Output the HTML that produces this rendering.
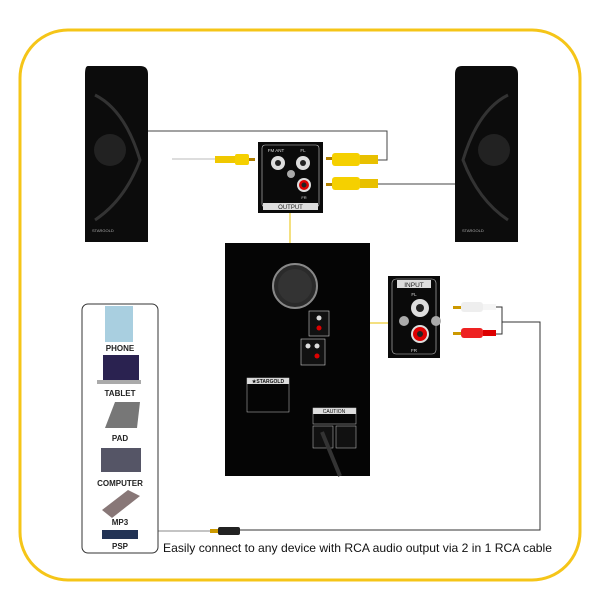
<!DOCTYPE html><html><head><style>
body{margin:0;background:#fff;width:600px;height:600px;overflow:hidden;font-family:"Liberation Sans",sans-serif}
</style></head><body>
<svg width="600" height="600" viewBox="0 0 600 600" xmlns="http://www.w3.org/2000/svg" font-family="Liberation Sans, sans-serif">
<rect x="20" y="30" width="560" height="550" rx="48" fill="none" stroke="#f5c518" stroke-width="3"/>
<polyline points="148,131 387,131 387,160 378,160" fill="none" stroke="#444" stroke-width="1"/>
<line x1="378" y1="184" x2="455" y2="184" stroke="#444" stroke-width="1"/>
<line x1="172" y1="159" x2="215" y2="159" stroke="#bbb" stroke-width="1"/>
<polyline points="290,213 290,333 300,335" fill="none" stroke="#e8c000" stroke-width="1"/>
<line x1="388" y1="323" x2="335" y2="323" stroke="#e8c000" stroke-width="1"/>
<polygon points="332,323 338,320 338,326" fill="#e8c000"/>
<polyline points="496,307 502,307 502,334 496,334" fill="none" stroke="#333" stroke-width="1"/>
<polyline points="502,322 540,322 540,530 240,530" fill="none" stroke="#333" stroke-width="1"/>
<line x1="158" y1="531" x2="210" y2="531" stroke="#888" stroke-width="1"/>
<path d="M88,66 L140,66 Q148,66 148,74 L148,242 L85,242 L85,74 Q85,66 88,66Z" fill="#0c0c0c"/>
<path d="M95,95 Q125,110 140,160 Q125,200 95,220" fill="none" stroke="#333" stroke-width="3"/>
<circle cx="110" cy="150" r="16" fill="#222"/>
<text x="92" y="232" fill="#aaa" font-size="4">STARGOLD</text>
<path d="M462,66 L510,66 Q518,66 518,74 L518,242 L455,242 L455,74 Q455,66 462,66Z" fill="#0c0c0c"/>
<path d="M508,95 Q478,110 463,160 Q478,200 508,220" fill="none" stroke="#333" stroke-width="3"/>
<circle cx="494" cy="150" r="16" fill="#222"/>
<text x="462" y="232" fill="#aaa" font-size="4">STARGOLD</text>
<rect x="215" y="156" width="20" height="7" fill="#f0c800"/><rect x="235" y="154" width="14" height="11" rx="2" fill="#f5d000"/><rect x="249" y="158" width="6" height="3" fill="#b08000"/>
<rect x="326" y="157" width="6" height="3" fill="#b08000"/><rect x="332" y="153" width="28" height="13" rx="3" fill="#f5d000"/><rect x="360" y="155" width="18" height="9" fill="#e8c000"/>
<rect x="326" y="183" width="6" height="3" fill="#b08000"/><rect x="332" y="177" width="28" height="13" rx="3" fill="#f5d000"/><rect x="360" y="179" width="18" height="9" fill="#e8c000"/>
<rect x="258" y="142" width="65" height="71" fill="#0a0a0a"/>
<rect x="262" y="145" width="57" height="62" rx="3" fill="none" stroke="#ccc" stroke-width="0.6"/>
<rect x="263" y="203" width="55" height="7" fill="#ddd"/>
<text x="290.5" y="209" font-size="6" text-anchor="middle" fill="#222">OUTPUT</text>
<text x="276" y="152" font-size="4.5" fill="#ddd" text-anchor="middle">FM ANT</text>
<text x="303" y="152" font-size="4.5" fill="#ddd" text-anchor="middle">FL</text>
<text x="304" y="199" font-size="4" fill="#ddd" text-anchor="middle">FR</text>
<circle cx="278" cy="163" r="7" fill="#ddd"/><circle cx="278" cy="163" r="3" fill="#222"/>
<circle cx="303" cy="163" r="7" fill="#ddd"/><circle cx="303" cy="163" r="3" fill="#222"/>
<circle cx="291" cy="174" r="4" fill="#aaa"/>
<circle cx="304" cy="185" r="7" fill="#ddd"/><circle cx="304" cy="185" r="5" fill="#d00"/><circle cx="304" cy="185" r="2.5" fill="#222"/>
<rect x="225" y="243" width="145" height="233" fill="#050505"/>
<circle cx="295" cy="286" r="22" fill="#2a2a2a" stroke="#888" stroke-width="2"/>
<circle cx="295" cy="286" r="17" fill="#333"/>
<rect x="309" y="311" width="20" height="25" fill="#111" stroke="#ccc" stroke-width="0.6"/>
<circle cx="319" cy="318" r="2.5" fill="#ddd"/><circle cx="319" cy="328" r="2.5" fill="#d00"/>
<rect x="301" y="339" width="24" height="26" fill="#111" stroke="#ccc" stroke-width="0.6"/>
<circle cx="308" cy="346" r="2.5" fill="#ddd"/><circle cx="317" cy="346" r="2.5" fill="#ddd"/><circle cx="317" cy="356" r="2.5" fill="#d00"/>
<rect x="247" y="378" width="42" height="6" fill="#ddd"/>
<text x="268" y="383" font-size="5" font-weight="bold" text-anchor="middle" fill="#111">★STARGOLD</text>
<rect x="247" y="378" width="42" height="34" fill="none" stroke="#ccc" stroke-width="0.5"/>
<rect x="313" y="408" width="43" height="6" fill="#ddd"/>
<text x="334" y="413" font-size="5" text-anchor="middle" fill="#111">CAUTION</text>
<rect x="313" y="408" width="43" height="16" fill="none" stroke="#ccc" stroke-width="0.5"/>
<rect x="313" y="426" width="20" height="22" fill="#111" stroke="#ccc" stroke-width="0.5"/>
<rect x="336" y="426" width="20" height="22" fill="#111" stroke="#ccc" stroke-width="0.5"/>
<path d="M322,432 L340,476" stroke="#333" stroke-width="4"/>
<rect x="388" y="276" width="52" height="82" fill="#0a0a0a"/>
<rect x="392" y="279" width="44" height="75" rx="4" fill="none" stroke="#ccc" stroke-width="0.6"/>
<rect x="397" y="280" width="34" height="8" fill="#ddd"/>
<text x="414" y="287" font-size="6.5" text-anchor="middle" fill="#222">INPUT</text>
<text x="414" y="296" font-size="4.5" text-anchor="middle" fill="#ddd">FL</text>
<text x="414" y="352" font-size="4.5" text-anchor="middle" fill="#ddd">FR</text>
<circle cx="420" cy="308" r="9" fill="#ddd"/><circle cx="420" cy="308" r="4" fill="#222"/>
<circle cx="404" cy="321" r="5" fill="#aaa"/><circle cx="436" cy="321" r="5" fill="#aaa"/>
<circle cx="420" cy="334" r="9" fill="#ddd"/><circle cx="420" cy="334" r="7" fill="#d00"/><circle cx="420" cy="334" r="3" fill="#222"/>
<rect x="453" y="306" width="8" height="3" fill="#c90"/><rect x="461" y="302" width="22" height="10" rx="3" fill="#eee"/><rect x="483" y="304" width="13" height="6" fill="#f5f5f5"/>
<rect x="453" y="332" width="8" height="3" fill="#c90"/><rect x="461" y="328" width="22" height="10" rx="3" fill="#e22"/><rect x="483" y="330" width="13" height="6" fill="#d00"/>
<rect x="210" y="529" width="8" height="4" fill="#c90"/><rect x="218" y="527" width="22" height="8" rx="2" fill="#222"/>
<rect x="82" y="304" width="76" height="249" rx="6" fill="#fff" stroke="#333" stroke-width="1"/>
<rect x="105" y="306" width="28" height="36" fill="#a9cfe0"/>
<text x="120" y="351" font-size="8" font-weight="bold" text-anchor="middle" fill="#222">PHONE</text>
<rect x="103" y="355" width="36" height="25" fill="#2a2250"/><rect x="97" y="380" width="44" height="4" fill="#aaa"/>
<text x="120" y="396" font-size="8" font-weight="bold" text-anchor="middle" fill="#222">TABLET</text>
<path d="M105,428 L115,402 L140,402 L137,428Z" fill="#777"/>
<text x="120" y="441" font-size="8" font-weight="bold" text-anchor="middle" fill="#222">PAD</text>
<rect x="101" y="448" width="40" height="24" fill="#556"/>
<text x="120" y="486" font-size="8" font-weight="bold" text-anchor="middle" fill="#222">COMPUTER</text>
<path d="M102,510 L128,490 L140,496 L112,518Z" fill="#877"/>
<text x="120" y="525" font-size="8" font-weight="bold" text-anchor="middle" fill="#222">MP3</text>
<rect x="102" y="530" width="36" height="9" fill="#235"/>
<text x="120" y="549" font-size="8" font-weight="bold" text-anchor="middle" fill="#222">PSP</text>
<text x="163" y="552" font-size="12" fill="#111" textLength="389" lengthAdjust="spacingAndGlyphs">Easily connect to any device with RCA audio output via 2 in 1 RCA cable</text>
</svg>
</body></html>
